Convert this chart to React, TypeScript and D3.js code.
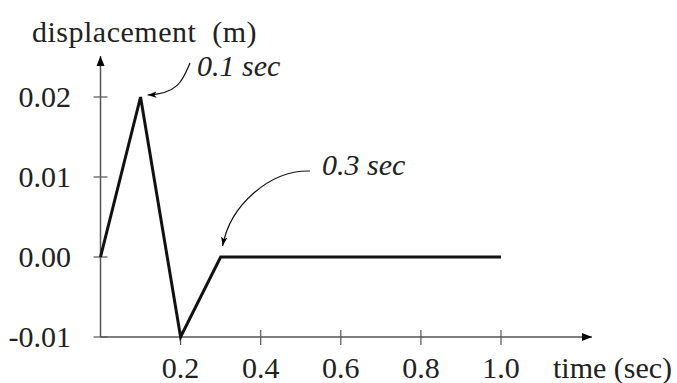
import React from 'react';
import * as d3 from 'd3';

const times = [0, 0.1, 0.2, 0.3, 1.0];
const displacements = [0, 0.02, -0.01, 0, 0];
const xTicks = [0.2, 0.4, 0.6, 0.8, 1.0];
const yTicks = [-0.01, 0.0, 0.01, 0.02];
const notes = [
  { t: 0.1, d: 0.02, label: '0.1 sec' },
  { t: 0.3, d: 0, label: '0.3 sec' },
];

const width = 677;
const height = 383;
const serif = { fontFamily: 'Liberation Serif' };

const App: React.FC = () => {
  const x = d3.scaleLinear().domain([0, 1]).range([100.5, 501]);
  const y = d3.scaleLinear().domain([-0.01, 0.02]).range([337, 97]);

  const pts: [number, number][] = times.map((t, i) => [x(t), y(displacements[i])]);
  const line = d3.line<[number, number]>()(pts) || '';

  const x0 = x(0);
  const y0 = y(-0.01);
  const axisColor = '#555';

  // annotation curves (text -> point)
  const n1 = notes[0];
  const p1x = x(n1.t) + 5;
  const p1y = y(n1.d) - 2;
  const c1 = d3.path();
  c1.moveTo(190, 63);
  c1.bezierCurveTo(183, 80, 178, 94, p1x + 2, p1y);

  const n2 = notes[1];
  const p2x = x(n2.t) + 2;
  const p2y = y(n2.d) - 9;
  const c2 = d3.path();
  c2.moveTo(310, 171);
  c2.bezierCurveTo(270, 170, 230, 205, p2x, p2y - 2);

  return (
    <svg
      width={width}
      height={height}
      style={{ position: 'absolute', left: 0, top: 0, background: '#fff' }}
    >
      <defs>
        <marker id="ah" viewBox="0 0 10 10" refX="10" refY="5" markerWidth="10" markerHeight="10" markerUnits="userSpaceOnUse" orient="auto">
          <path d="M0,1 L10,5 L0,9 Z" fill="#000" />
        </marker>
        <marker id="sh" viewBox="0 0 10 10" refX="10" refY="5" markerWidth="9" markerHeight="9" markerUnits="userSpaceOnUse" orient="auto">
          <path d="M0,1.5 L10,5 L0,8.5 L2.5,5 Z" fill="#000" />
        </marker>
      </defs>

      {/* axes */}
      <line x1={x0} y1={y0} x2={592} y2={y0} stroke={axisColor} strokeWidth={1.5} markerEnd="url(#ah)" />
      <line x1={x0} y1={y0} x2={x0} y2={56} stroke={axisColor} strokeWidth={1.5} markerEnd="url(#ah)" />

      {xTicks.map((t) => (
        <g key={`x${t}`}>
          <line x1={x(t)} x2={x(t)} y1={y0 - 7} y2={y0 + 8} stroke={axisColor} strokeWidth={1.2} />
          <text x={x(t)} y={378} textAnchor="middle" fontSize={30} fill="#222" style={serif}>
            {t.toFixed(1)}
          </text>
        </g>
      ))}

      {yTicks.map((v) => (
        <g key={`y${v}`}>
          <line x1={x0 - 7} x2={x0 + 7} y1={y(v)} y2={y(v)} stroke={axisColor} strokeWidth={1.2} />
          <text x={71} y={y(v) + 10} textAnchor="end" fontSize={30} fill="#222" style={serif}>
            {v.toFixed(2)}
          </text>
        </g>
      ))}

      <text x={32} y={42} fontSize={30} fill="#222" style={{ ...serif, whiteSpace: 'pre', letterSpacing: 0.5 }}>
        {'displacement  (m)'}
      </text>
      <text x={553} y={378} fontSize={30} fill="#222" style={serif}>
        time (sec)
      </text>

      {/* data */}
      <path d={line} fill="none" stroke="#111" strokeWidth={3} strokeLinejoin="miter" />

      {/* annotations */}
      <path d={c1.toString()} fill="none" stroke="#111" strokeWidth={1.2} markerEnd="url(#sh)" />
      <text x={197} y={76} fontSize={30} fontStyle="italic" fill="#222" style={serif}>
        {n1.label}
      </text>
      <path d={c2.toString()} fill="none" stroke="#111" strokeWidth={1.2} markerEnd="url(#sh)" />
      <text x={322} y={175} fontSize={30} fontStyle="italic" fill="#222" style={serif}>
        {n2.label}
      </text>
    </svg>
  );
};

export default App;
